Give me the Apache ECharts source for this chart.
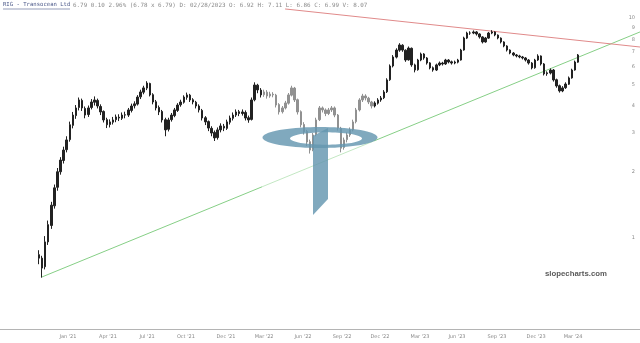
<!DOCTYPE html>
<html>
<head>
<meta charset="utf-8">
<script src="https://cdn.jsdelivr.net/npm/echarts@6/dist/echarts.min.js"></script>
<style>
html,body{margin:0;padding:0;background:#fff;}
#chart{width:640px;height:343px;}
</style>
</head>
<body>
<div id="chart"></div>
<script>
// Weekly bars, week index 0 = week of 26 Oct 2020. Rows: [open, close, low, high]
const ohlc = [
[0.84,0.81,0.76,0.88],[0.81,0.73,0.66,0.83],[0.74,0.96,0.72,1.02],[0.96,1.15,0.93,1.20],
[1.14,1.41,1.10,1.46],[1.40,1.69,1.36,1.75],[1.70,2.00,1.64,2.08],[2.00,2.26,1.94,2.33],
[2.25,2.51,2.18,2.60],[2.52,2.79,2.45,2.90],[2.80,3.27,2.74,3.38],[3.25,3.62,3.15,3.74],
[3.60,3.90,3.48,4.02],[3.92,4.24,3.80,4.35],[4.22,3.90,3.78,4.30],[3.88,3.62,3.50,3.96],
[3.64,3.90,3.55,4.00],[3.92,4.15,3.84,4.28],[4.14,4.24,4.00,4.40],[4.22,3.98,3.88,4.30],
[3.96,3.74,3.62,4.05],[3.76,3.44,3.35,3.80],[3.45,3.27,3.16,3.52],[3.28,3.37,3.18,3.46],
[3.36,3.44,3.28,3.55],[3.45,3.55,3.36,3.64],[3.54,3.51,3.40,3.65],[3.50,3.62,3.44,3.72],
[3.63,3.62,3.50,3.75],[3.62,3.82,3.55,3.90],[3.80,3.98,3.72,4.08],[3.99,4.07,3.88,4.18],
[4.06,4.37,4.00,4.46],[4.38,4.61,4.28,4.72],[4.60,4.81,4.50,4.92],[4.80,5.06,4.70,5.16],
[5.04,4.47,4.40,5.08],[4.48,4.15,4.05,4.55],[4.16,3.90,3.80,4.24],[3.92,3.74,3.62,4.00],
[3.76,3.44,3.35,3.82],[3.45,3.10,2.90,3.52],[3.12,3.44,3.05,3.52],[3.45,3.62,3.38,3.70],
[3.60,3.82,3.54,3.90],[3.80,4.02,3.74,4.10],[4.03,4.15,3.95,4.25],[4.14,4.37,4.08,4.45],
[4.36,4.47,4.25,4.58],[4.46,4.24,4.15,4.52],[4.25,4.15,4.05,4.32],[4.14,3.98,3.88,4.20],
[3.98,3.82,3.72,4.05],[3.80,3.51,3.42,3.86],[3.52,3.37,3.26,3.58],[3.38,3.16,3.06,3.42],
[3.15,3.00,2.90,3.22],[3.02,2.85,2.76,3.08],[2.86,3.10,2.80,3.18],[3.10,3.23,3.02,3.32],
[3.22,3.16,3.06,3.30],[3.15,3.37,3.10,3.45],[3.36,3.51,3.28,3.60],[3.50,3.62,3.42,3.72],
[3.62,3.74,3.55,3.84],[3.75,3.68,3.58,3.82],[3.68,3.74,3.60,3.84],[3.72,3.51,3.42,3.80],
[3.52,3.44,3.34,3.60],[3.46,4.24,3.42,4.35],[4.25,4.96,4.18,5.10],[4.95,4.71,4.55,5.02],
[4.70,4.47,4.35,4.80],[4.48,4.61,4.38,4.72],[4.60,4.42,4.30,4.70],[4.42,4.51,4.34,4.62],
[4.50,4.47,4.36,4.60],[4.46,4.02,3.92,4.52],[4.04,3.74,3.64,4.10],[3.75,3.90,3.68,3.98],
[3.90,4.11,3.84,4.20],[4.10,4.47,4.04,4.56],[4.46,4.81,4.40,4.92],[4.80,4.24,4.15,4.86],
[4.25,3.74,3.64,4.30],[3.75,3.27,3.18,3.80],[3.28,3.04,2.95,3.36],[3.05,2.73,2.62,3.10],
[2.74,2.51,2.42,2.80],[2.52,2.94,2.48,3.00],[2.95,3.44,2.90,3.52],[3.45,3.90,3.40,3.98],
[3.90,3.82,3.72,3.96],[3.82,3.68,3.58,3.88],[3.68,3.82,3.62,3.90],[3.82,3.90,3.74,3.98],
[3.90,3.62,3.54,3.96],[3.62,3.16,3.08,3.66],[3.15,2.56,2.45,3.20],[2.58,2.79,2.52,2.86],
[2.80,2.94,2.72,3.02],[2.94,3.10,2.88,3.18],[3.10,3.37,3.05,3.45],[3.38,3.82,3.32,3.90],
[3.82,4.24,3.76,4.32],[4.24,4.42,4.15,4.52],[4.42,4.33,4.22,4.50],[4.32,4.15,4.06,4.38],
[4.15,3.98,3.88,4.20],[3.98,4.11,3.92,4.18],[4.10,4.24,4.04,4.32],[4.24,4.33,4.16,4.42],
[4.34,4.61,4.28,4.70],[4.62,5.23,4.56,5.32],[5.24,6.05,5.18,6.15],[6.05,6.65,5.96,6.78],
[6.64,7.15,6.55,7.28],[7.14,7.54,7.02,7.68],[7.52,7.15,7.02,7.60],[7.14,6.44,6.32,7.20],
[6.45,7.30,6.40,7.42],[7.28,6.12,6.00,7.34],[6.12,5.80,5.66,6.20],[5.82,6.44,5.76,6.52],
[6.44,6.86,6.36,6.96],[6.86,6.58,6.46,6.92],[6.58,6.24,6.14,6.64],[6.25,5.93,5.84,6.30],
[5.94,5.80,5.70,6.02],[5.80,6.12,5.74,6.20],[6.12,6.24,6.04,6.34],[6.24,6.18,6.08,6.32],
[6.18,6.44,6.12,6.52],[6.44,6.31,6.22,6.50],[6.32,6.24,6.14,6.40],[6.24,6.31,6.16,6.40],
[6.30,6.44,6.22,6.52],[6.44,7.15,6.40,7.24],[7.15,8.11,7.10,8.22],[8.10,8.54,8.02,8.66],
[8.54,8.54,8.38,8.70],[8.54,8.64,8.44,8.78],[8.64,8.46,8.32,8.72],[8.46,8.20,8.06,8.52],
[8.20,7.78,7.66,8.26],[7.78,8.11,7.72,8.20],[8.10,8.54,8.04,8.64],[8.54,8.64,8.44,8.80],
[8.64,8.37,8.26,8.70],[8.36,8.11,8.00,8.42],[8.10,7.78,7.66,8.16],[7.78,7.46,7.36,7.84],
[7.46,7.15,7.04,7.52],[7.15,6.93,6.84,7.20],[6.93,6.79,6.70,7.00],[6.79,6.72,6.62,6.86],
[6.72,6.65,6.56,6.80],[6.65,6.58,6.48,6.72],[6.58,6.44,6.34,6.64],[6.44,6.24,6.14,6.50],
[6.24,5.93,5.84,6.30],[5.94,6.44,5.88,6.52],[6.44,6.72,6.38,6.84],[6.72,6.18,6.08,6.76],
[6.18,5.57,5.48,6.24],[5.58,5.63,5.46,5.72],[5.62,5.80,5.54,5.90],[5.80,5.23,5.14,5.86],
[5.24,4.91,4.82,5.30],[4.92,4.66,4.58,4.98],[4.66,4.81,4.60,4.90],[4.82,5.01,4.76,5.10],
[5.00,5.34,4.96,5.42],[5.34,5.80,5.30,5.88],[5.80,6.31,5.76,6.40],[6.30,6.79,6.26,6.86]
];

// Trend lines: [weekIndex, price]
const supportLine = [[0.97, 0.665], [195.13, 8.64]];
const resistanceLine = [[79.9, 10.99], [195.13, 7.38]];

// X tick positions (week index) and labels
const xTickWeeks = [9.4, 22.4, 35.1, 47.7, 60.7, 73.1, 85.7, 98.4, 110.7, 123.7, 135.7, 148.7, 161.4, 173.4];
const xTickLabels = ["Jan '21","Apr '21","Jul '21","Oct '21","Dec '21","Mar '22","Jun '22","Sep '22","Dec '22","Mar '23","Jun '23","Sep '23","Dec '23","Mar '24"];

// Y tick values (log scale)
const yTicks = [1, 2, 3, 4, 5, 6, 7, 8, 9, 10];

const headerSymbol = "RIG - Transocean Ltd";
const headerQuote = "6.79 0.10 2.96% (6.78 x 6.79) D: 02/28/2023 O: 6.92 H: 7.11 L: 6.86 C: 6.99 V: 8.07";

const candleData = ohlc.map((r, i) => [i, r[0], r[1], r[2], r[3]]);

const chart = echarts.init(document.getElementById('chart'), null, {renderer: 'canvas'});

// watermark logo (decoration): ring as polygon with reversed inner contour
function ellipsePts(cx, cy, rx, ry, n, reverse) {
  const pts = [];
  for (let k = 0; k <= n; k++) {
    const a = (reverse ? -1 : 1) * 2 * Math.PI * k / n;
    pts.push([cx + rx * Math.cos(a), cy + ry * Math.sin(a)]);
  }
  return pts;
}
const ringPts = ellipsePts(320, 137.5, 57.5, 10.5, 72, false).concat(ellipsePts(326, 138.5, 36, 6.2, 72, true));

const option = {
  animation: false,
  backgroundColor: '#ffffff',
  grid: {left: 0, right: 0, top: 0, bottom: 14, containLabel: false},
  xAxis: {
    type: 'value',
    min: -12.66,
    max: 195.13,
    axisLine: {show: true, lineStyle: {color: '#b4b4b4', width: 1}},
    axisTick: {show: false},
    splitLine: {show: false},
    axisLabel: {
      show: true,
      customValues: xTickWeeks,
      fontSize: 5,
      color: '#8a8a8a',
      margin: 5,
      fontFamily: 'DejaVu Sans',
      formatter: function (v) {
        let best = 0, d = Infinity;
        xTickWeeks.forEach((w, i) => { if (Math.abs(w - v) < d) { d = Math.abs(w - v); best = i; } });
        return xTickLabels[best];
      }
    }
  },
  yAxis: {
    type: 'log',
    logBase: 10,
    min: 0.3858,
    max: 12.07,
    position: 'right',
    axisLine: {show: false},
    axisTick: {show: false},
    splitLine: {show: false},
    axisLabel: {
      show: true,
      inside: true,
      customValues: yTicks,
      fontSize: 5,
      color: '#8a8a8a',
      margin: 5,
      fontFamily: 'DejaVu Sans',
      formatter: function (v) { return String(Math.round(v)); }
    }
  },
  series: [
    {
      type: 'candlestick',
      data: candleData,
      encode: {x: 0, y: [1, 2, 3, 4]},
      barWidth: 2,
      itemStyle: {color: '#222', color0: '#222', borderColor: '#222', borderColor0: '#222', borderWidth: 1},
      z: 2
    },
    {
      type: 'line',
      data: supportLine,
      symbol: 'none',
      lineStyle: {color: '#86cf86', width: 1},
      z: 1
    },
    {
      type: 'line',
      data: resistanceLine,
      symbol: 'none',
      lineStyle: {color: '#e08a8a', width: 1},
      z: 1
    }
  ],
  graphic: [
    {type: 'rect', z: 100, shape: {x: 262, y: 84, width: 112, height: 138}, style: {fill: 'rgba(255,255,255,0.5)'}},
    {type: 'polygon', z: 101, shape: {points: ringPts}, style: {fill: 'rgba(100,150,176,0.82)'}},
    {type: 'polygon', z: 101, shape: {points: [[313, 136], [328, 128], [328, 199], [313, 215]]}, style: {fill: 'rgba(100,150,176,0.82)'}},
    {type: 'text', z: 102, x: 3, y: 2, style: {text: headerSymbol, fill: '#4d5a8a', font: '5.6px "DejaVu Sans Mono"'}},
    {type: 'line', z: 102, shape: {x1: 3, y1: 9, x2: 70, y2: 9}, style: {stroke: '#4d5a8a', lineWidth: 0.6}},
    {type: 'text', z: 102, x: 73, y: 2, style: {text: headerQuote, fill: '#8a8a8a', font: '5.9px "DejaVu Sans Mono"'}},
    {type: 'text', z: 102, x: 545, y: 270, style: {text: 'slopecharts.com', fill: '#5a5a5a', font: 'bold 7.8px "Liberation Sans"'}}
  ]
};
chart.setOption(option);
</script>
</body>
</html>
